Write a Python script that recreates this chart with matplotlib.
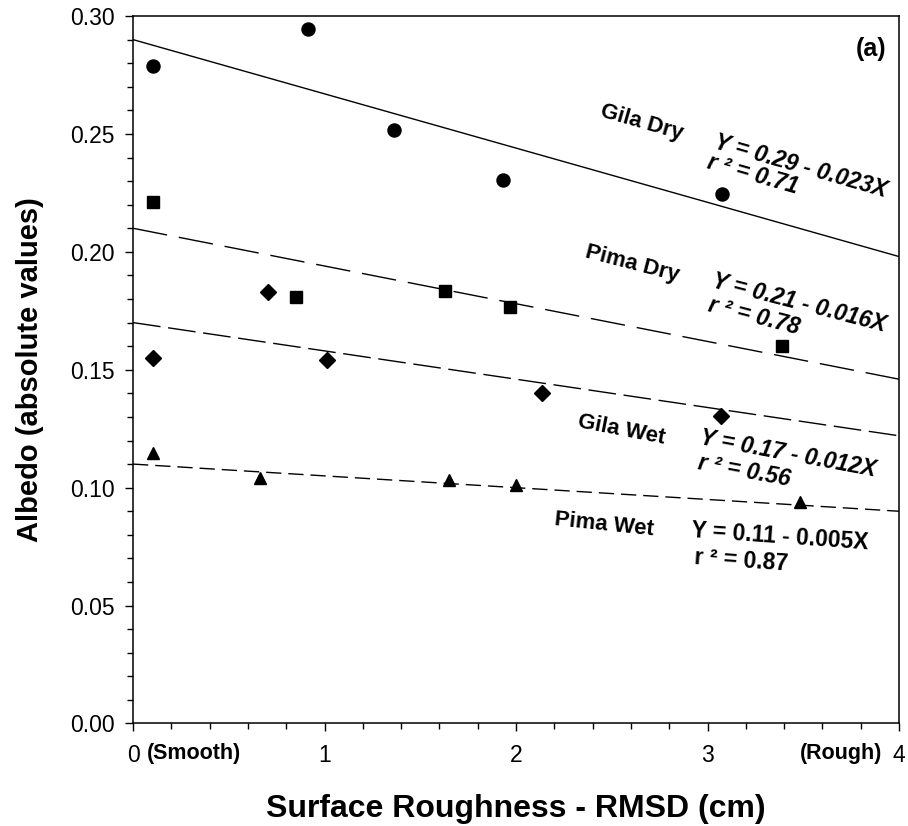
import matplotlib
matplotlib.use("Agg")
import matplotlib.pyplot as plt
from matplotlib.ticker import MultipleLocator
from matplotlib import transforms
import numpy as np

plt.rcParams['font.family'] = ['Liberation Sans', 'DejaVu Sans']

# roughness (cm) and albedo
gila_dry_x = [0.106, 0.915, 1.361, 1.931, 3.078]
gila_dry_y = [0.279, 0.2945, 0.2517, 0.2305, 0.2245]
pima_dry_x = [0.103, 0.853, 1.631, 1.971, 3.387]
pima_dry_y = [0.221, 0.181, 0.1833, 0.1765, 0.160]
gila_wet_x = [0.103, 0.703, 1.015, 2.138, 3.073]
gila_wet_y = [0.155, 0.1829, 0.154, 0.1403, 0.1305]
pima_wet_x = [0.103, 0.663, 1.650, 2.000, 3.485]
pima_wet_y = [0.1145, 0.1042, 0.1032, 0.1010, 0.0940]

# regression fits (Y = a + bX)
names = ['Gila Dry', 'Pima Dry', 'Gila Wet', 'Pima Wet']
intercepts = [0.29, 0.21, 0.17, 0.11]
slopes = [-0.023, -0.016, -0.012, -0.005]
r2 = [0.71, 0.78, 0.56, 0.87]

fig = plt.figure(figsize=(9.08, 8.26), dpi=100)
ax = fig.add_axes([0.1465, 0.1241, 0.8436, 0.8565])

ax.plot(gila_dry_x, gila_dry_y, 'o', color='black', markersize=9.4, linestyle='None')
ax.plot(pima_dry_x, pima_dry_y, 's', color='black', markersize=8.2, linestyle='None')
ax.plot(gila_wet_x, gila_wet_y, 'D', color='black', markersize=8.3, linestyle='None')
ax.plot(pima_wet_x, pima_wet_y, '^', color='black', markersize=9.2, linestyle='None')

xx = np.array([0.0, 4.0])
dash_styles = [None, (0, (25, 8.6)), (0, (20, 5.5)), (0, (11, 5))]
for a, b, ds in zip(intercepts, slopes, dash_styles):
    if ds is None:
        ax.plot(xx, a + b * xx, color='black', linewidth=1.0)
    else:
        ax.plot(xx, a + b * xx, color='black', linewidth=1.0, linestyle=ds)

ax.set_xlim(0, 4)
ax.set_ylim(0, 0.30)
ax.xaxis.set_major_locator(MultipleLocator(1))
ax.xaxis.set_minor_locator(MultipleLocator(0.2))
ax.yaxis.set_major_locator(MultipleLocator(0.05))
ax.yaxis.set_minor_locator(MultipleLocator(0.01))
ax.set_xticks([0, 1, 2, 3, 4])
ax.set_xticklabels(['0', '1', '2', '3', '4'])
ax.set_yticks([0.0, 0.05, 0.10, 0.15, 0.20, 0.25, 0.30])
ax.set_yticklabels(['0.00', '0.05', '0.10', '0.15', '0.20', '0.25', '0.30'])
ax.tick_params(which='major', direction='out', length=5.5, width=1.0, labelsize=16.5)
ax.tick_params(which='minor', direction='out', length=4, width=1.0)
ax.tick_params(axis='x', which='major', pad=9.5)
ax.tick_params(axis='y', which='major', pad=8)
for sp in ax.spines.values():
    sp.set_linewidth(1.1)

trans = transforms.blended_transform_factory(ax.transData, ax.transAxes)
ax.text(0.0715, -0.0431, '(Smooth)', transform=trans, ha='left', va='center',
        fontsize=15.5, fontweight='bold')
ax.text(3.911, -0.0431, '(Rough)', transform=trans, ha='right', va='center',
        fontsize=15.5, fontweight='bold')

ax.text(0.963, 0.954, '(a)', transform=ax.transAxes, ha='center', va='center',
        fontsize=18, fontweight='bold')

# series labels and fit equations
label_pos = [(2.433, 0.2577, -16), (2.355, 0.1978, -14.5), (2.318, 0.1257, -11), (2.198, 0.0840, -6)]
eq_pos = [(3.029, 0.2441, -16), (3.018, 0.1851, -14.5), (2.956, 0.1187, -10.5), (2.914, 0.0791, -4)]
r_pos = [(2.992, 0.2356, -16), (2.997, 0.1751, -14.5), (2.945, 0.1081, -10.5), (2.930, 0.0676, -4)]
eq_style = ['italic', 'italic', 'italic', 'normal']

for i in range(4):
    lx, ly, lr = label_pos[i]
    ax.text(lx, ly, names[i], rotation=lr, rotation_mode='anchor', ha='left',
            va='baseline', fontsize=16, fontweight='bold')
    ex, ey, er = eq_pos[i]
    ax.text(ex, ey, f'Y = {intercepts[i]:.2f} - {abs(slopes[i]):.3f}X', rotation=er,
            rotation_mode='anchor', ha='left', va='baseline', fontsize=16.5,
            fontweight='bold', fontstyle=eq_style[i])
    rx, ry, rr = r_pos[i]
    ax.text(rx, ry, f'r \u00b2 = {r2[i]:.2f}', rotation=rr, rotation_mode='anchor',
            ha='left', va='baseline', fontsize=16.5, fontweight='bold',
            fontstyle=eq_style[i])

fig.text(516 / 908, 1 - 817 / 826, 'Surface Roughness - RMSD (cm)', ha='center',
         va='baseline', fontsize=23, fontweight='bold')
fig.text(38 / 908, 1 - 370 / 826, 'Albedo (absolute values)', rotation=90,
         rotation_mode='anchor', ha='center', va='baseline', fontsize=21,
         fontweight='bold')

fig.savefig('out.png', dpi=100)
